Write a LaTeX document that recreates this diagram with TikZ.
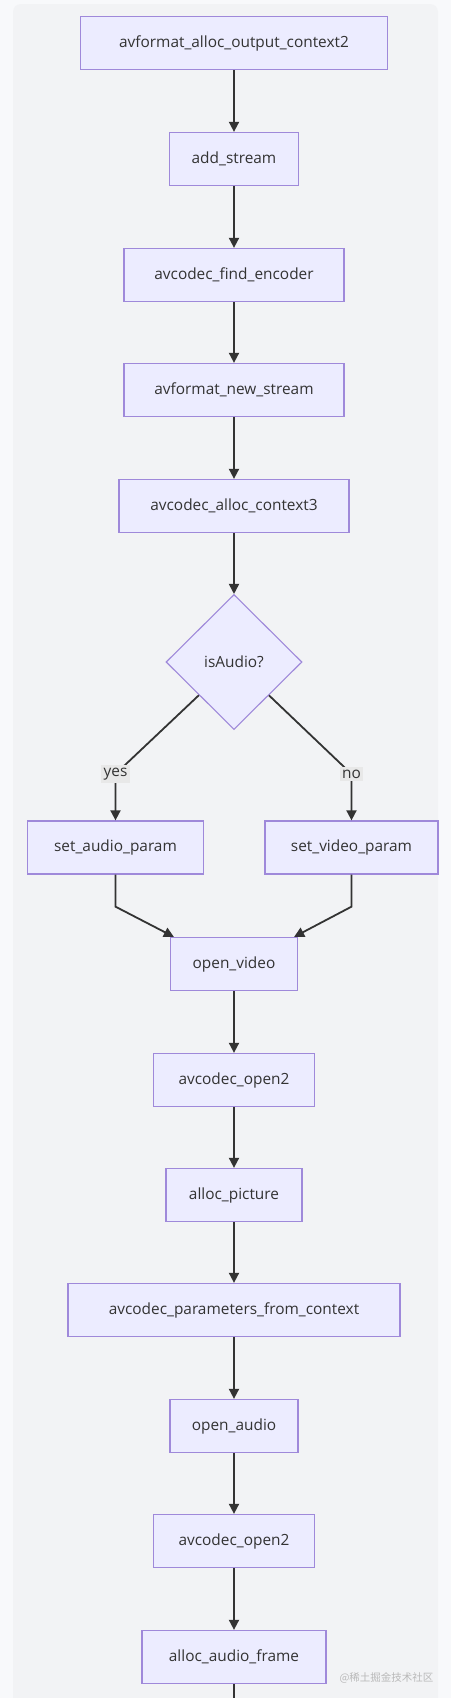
\documentclass[tikz,border=0pt]{standalone}
\usepackage{fontspec}
\setmainfont{Open Sans}
\newfontfamily\cjkfont{Noto Sans CJK SC}
\usetikzlibrary{arrows.meta,shapes.geometric,positioning}
\definecolor{boxfill}{HTML}{ECECFF}
\definecolor{boxline}{HTML}{9F89DA}
\definecolor{edgecol}{HTML}{333333}
\definecolor{panelbg}{HTML}{F2F3F5}
\definecolor{pagebg}{HTML}{F8F9FB}
\definecolor{lblbg}{HTML}{E8E8E8}
\begin{document}
\begin{tikzpicture}[x=1pt,y=-1pt,
        fnbox/.style={rectangle,draw=boxline,fill=boxfill,line width=1.3pt,minimum height=53pt,inner sep=0pt,text=edgecol,font=\fontsize{15.4}{18}\selectfont},
        decision/.style={diamond,draw=boxline,fill=boxfill,line width=1.1pt,minimum width=136pt,minimum height=135pt,inner sep=0pt,text=edgecol,font=\fontsize{15.4}{18}\selectfont},
        flow/.style={draw=edgecol,line width=1.8pt,-{Triangle[length=10pt,width=10pt]}},
        lbl/.style={fill=lblbg,inner sep=2.5pt,text=edgecol,font=\fontsize{15.4}{18}\selectfont}]
        \useasboundingbox (0,0) rectangle (451,1698);
        \fill[pagebg] (0,0) rectangle (451,1698);
        \fill[panelbg,rounded corners=8pt] (13,4) rectangle (438,1730);

        \foreach \n/\t/\w/\y in {
            top/avformat\_alloc\_output\_context2/307/43,
            addstream/add\_stream/129/159,
            findenc/avcodec\_find\_encoder/220/275,
            newstream/avformat\_new\_stream/220/390,
            allocctx/avcodec\_alloc\_context3/230/506,
            openvideo/open\_video/127/964,
            vopen/avcodec\_open2/161/1080,
            allocpic/alloc\_picture/136/1195,
            paramsctx/avcodec\_parameters\_from\_context/332/1310,
            openaudio/open\_audio/128/1426,
            aopen/avcodec\_open2/161/1541,
            allocframe/alloc\_audio\_frame/184/1657}{
            \node [fnbox,minimum width=\w pt] (\n) at (234,\y) {\t};
        }
        \node [decision] (isaudio) at (234,662) {isAudio?};
        \node [fnbox,minimum width=176pt] (setaudio) at (115.5,847.5) {set\_audio\_param};
        \node [fnbox,minimum width=173pt] (setvideo) at (351.5,847.5) {set\_video\_param};

        \foreach \a/\b in {top/addstream,addstream/findenc,findenc/newstream,newstream/allocctx,allocctx/isaudio,
                           openvideo/vopen,vopen/allocpic,allocpic/paramsctx,paramsctx/openaudio,openaudio/aopen,aopen/allocframe}{
            \draw [flow] (\a) -- (\b);
        }

        \coordinate (yesturn) at (115.5,774);
        \coordinate (noturn) at (351.5,774);
        \draw [flow] (isaudio) -- (yesturn) -- (setaudio);
        \draw [flow] (isaudio) -- (noturn) -- (setvideo);
        \node [lbl] (yeslbl) at (yesturn) {yes};
        \node [lbl] (nolbl) at (noturn) {no};

        \draw [flow] (setaudio.south) -- ++(0,32) -- ([xshift=4pt]openvideo.north west);
        \draw [flow] (setvideo.south) -- ++(0,32) -- ([xshift=-4pt]openvideo.north east);

        \coordinate (tail) at (234,1745);
        \draw [flow] (allocframe) -- (tail);

        \node [text=gray!55,font=\cjkfont\fontsize{10.5}{12}\selectfont,anchor=east] (mark) at (437,1678) {@稀土掘金技术社区};
    \end{tikzpicture}
\end{document}
